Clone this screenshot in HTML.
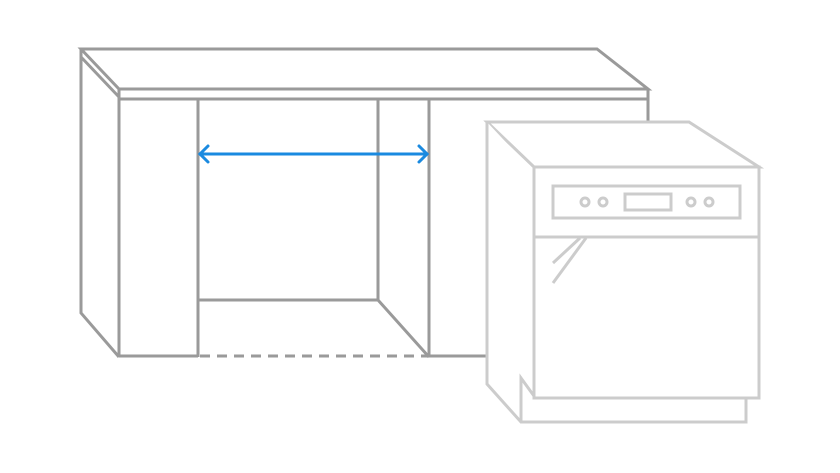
<!DOCTYPE html>
<html><head><style>html,body{margin:0;padding:0;background:#fff}svg{display:block}</style></head>
<body>
<svg width="840" height="473" viewBox="0 0 840 473" xmlns="http://www.w3.org/2000/svg" fill="none" stroke-linejoin="miter">
<g stroke="#9a9a9a" stroke-width="3">
  <path d="M81,49 L597,49 L648,89 L119,89 Z"/>
  <path d="M81,57 L119,97"/>
  <path d="M119,89 L119,357"/>
  <path d="M119,99 L648,99"/>
  <path d="M648,89 L648,121"/>
  <path d="M81,49 L81,313 L119,357"/>
  <path d="M198,99 L198,357"/>
  <path d="M378,99 L378,300 L429,357"/>
  <path d="M198,300 L378,300"/>
  <path d="M429,99 L429,357"/>
  <path d="M119,356 L198,356"/>
  <path d="M429,356 L487,356"/>
  <path d="M200,356 L429,356" stroke-dasharray="10,7"/>
</g>
<g stroke="#1a8ae0" stroke-width="3" stroke-linecap="round">
  <path d="M200,154 L427,154"/>
  <path d="M208,146 L200,154 L208,162"/>
  <path d="M419,146 L427,154 L419,162"/>
</g>
<g stroke="#cccccc" stroke-width="3">
  <path d="M487,122 L689,122 L759,167 L534,167 Z" fill="#fff"/>
  <path d="M487,122 L487,384 L521,422 L746,422 L746,398" fill="#fff"/>
  <rect x="534" y="167" width="225" height="231" fill="#fff"/>
  <path d="M521,422 L521,378 L534,396"/>
  <path d="M534,237 L759,237"/>
  <rect x="553" y="186" width="187" height="32"/>
  <rect x="625" y="194" width="46" height="16"/>
  <circle cx="585" cy="202" r="4"/>
  <circle cx="603" cy="202" r="4"/>
  <circle cx="691" cy="202" r="4"/>
  <circle cx="709" cy="202" r="4"/>
  <path d="M553,263 L580,238"/>
  <path d="M553,283 L586,238"/>
</g>
</svg>
</body></html>
